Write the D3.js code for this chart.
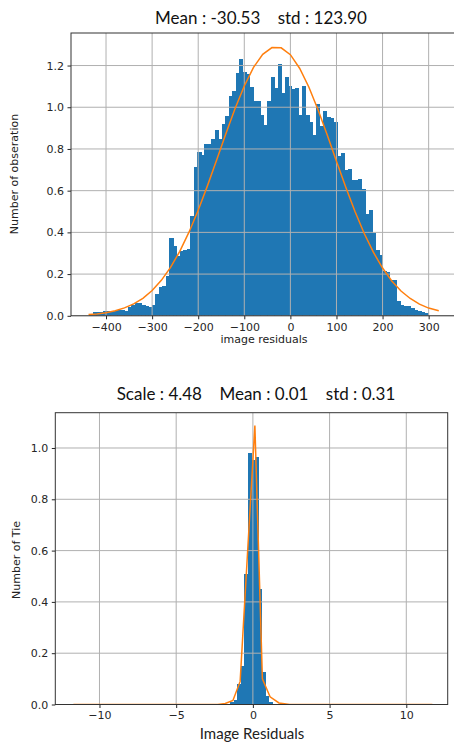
<!DOCTYPE html>
<html>
<head>
<meta charset="utf-8">
<script src="https://cdn.jsdelivr.net/npm/d3@7"></script>
<style>
  body { margin: 0; background: #fff; }
  svg { display: block; }
  .tick text { font-family: "DejaVu Sans", sans-serif; font-size: 11px; fill: #262626; }
  .tick line { stroke: #262626; }
</style>
</head>
<body>
<div id="chart"></div>
<script>
// ---- top histogram: image residuals (97 bins) ----
var topBinStart = -436.8;
var topBinWidth = 7.584;
var topCounts = [
  0.008, 0.02, 0.02, 0.018, 0.022, 0.024, 0.022, 0.022, 0.027, 0.027,
  0.024, 0.04, 0.05, 0.06, 0.06, 0.05, 0.046, 0.04, 0.053, 0.104,
  0.14, 0.144, 0.19, 0.373, 0.334, 0.288, 0.312, 0.317, 0.32, 0.477,
  0.712, 0.787, 0.771, 0.824, 0.824, 0.85, 0.891, 0.848, 0.92, 0.96,
  1.056, 1.08, 1.165, 1.232, 1.168, 1.16, 1.096, 1.032, 1.03, 0.961,
  0.913, 1.03, 1.147, 1.093, 1.208, 1.069, 1.144, 1.104, 1.088, 1.092,
  0.964, 1.10, 0.961, 0.929, 0.865, 1.017, 0.908, 0.98, 0.953, 0.948,
  0.929, 0.768, 0.782, 0.701, 0.703, 0.653, 0.65, 0.657, 0.61, 0.488,
  0.507, 0.398, 0.316, 0.292, 0.217, 0.212, 0.172, 0.172, 0.069, 0.053,
  0.048, 0.045, 0.037, 0.029, 0.021, 0.018, 0.013
];
// fitted curve
var topFitX = [-438, -420, -400, -380, -360, -340, -320, -300, -280, -260,
  -240, -220, -200, -180, -160, -140, -120, -100, -80, -60,
  -40, -20, 0, 20, 40, 60, 80, 100, 120, 140,
  160, 180, 200, 220, 240, 260, 280, 300, 322];
var topFitY = [0.006, 0.009, 0.015, 0.024, 0.038, 0.057, 0.084, 0.121, 0.170, 0.232,
  0.309, 0.401, 0.506, 0.623, 0.747, 0.873, 0.994, 1.102, 1.191, 1.254,
  1.286, 1.285, 1.252, 1.187, 1.097, 0.988, 0.867, 0.741, 0.617, 0.501,
  0.396, 0.305, 0.229, 0.167, 0.119, 0.083, 0.056, 0.037, 0.024];
var topXTicks = [-400, -300, -200, -100, 0, 100, 200, 300];
var topYTicks = [0, 0.2, 0.4, 0.6, 0.8, 1.0, 1.2];

// ---- bottom histogram: Image Residuals (non-empty bins only) ----
var botBinStart = -1.475;
var botBinWidth = 0.229;
var botCounts = [0.008, 0.017, 0.08, 0.15, 0.51, 0.979, 0.953, 0.966, 0.45, 0.125, 0.033, 0.01];
var botFitX = [-11.7, -2.3, -1.8, -1.3, -0.83, 0.13, 0.62, 1.12, 1.7, 2.4, 11.7];
var botFitY = [0, 0, 0.004, 0.016, 0.09, 1.088, 0.1, 0.03, 0.006, 0, 0];
var botXTicks = [-10, -5, 0, 5, 10];
var botYTicks = [0, 0.2, 0.4, 0.6, 0.8, 1.0];

var width = 454, height = 743;
var svg = d3.select("#chart").append("svg")
    .attr("width", width)
    .attr("height", height);

function fmtMinus(f) {
    return function (d) { return f(d).replace("-", "\u2212"); };
}

function drawPanel(opt) {
    var x = d3.scaleLinear().domain(opt.xDomain).range([opt.left, opt.right]);
    var y = d3.scaleLinear().domain(opt.yDomain).range([opt.bottom, opt.top]);
    var g = svg.append("g");

    g.append("clipPath").attr("id", opt.id + "-clip")
        .append("rect")
        .attr("x", opt.left).attr("y", opt.top)
        .attr("width", opt.right - opt.left).attr("height", opt.bottom - opt.top);

    var plot = g.append("g").attr("clip-path", "url(#" + opt.id + "-clip)");

    // bars (crisp so neighbouring bins don't show seams)
    plot.selectAll("rect.bar")
        .data(opt.counts)
        .enter().append("rect")
        .attr("class", "bar")
        .attr("x", function (d, i) { return x(opt.binStart + i * opt.binWidth); })
        .attr("y", function (d) { return y(d); })
        .attr("width", function (d, i) {
            return x(opt.binStart + (i + 1) * opt.binWidth) - x(opt.binStart + i * opt.binWidth) + 0.6;
        })
        .attr("height", function (d) { return y(0) - y(d); })
        .attr("fill", "#1f77b4")
        .attr("shape-rendering", "crispEdges");

    // grid drawn over the bars, like the original
    plot.selectAll("line.vgrid")
        .data(opt.xTicks)
        .enter().append("line")
        .attr("x1", function (d) { return x(d); })
        .attr("x2", function (d) { return x(d); })
        .attr("y1", opt.top).attr("y2", opt.bottom)
        .attr("stroke", "#b0b0b0").attr("stroke-width", 1);
    plot.selectAll("line.hgrid")
        .data(opt.yTicks)
        .enter().append("line")
        .attr("x1", opt.left).attr("x2", opt.right)
        .attr("y1", function (d) { return y(d); })
        .attr("y2", function (d) { return y(d); })
        .attr("stroke", "#b0b0b0").attr("stroke-width", 1);

    // fitted line
    var line = d3.line()
        .x(function (d) { return x(d[0]); })
        .y(function (d) { return y(d[1]); });
    plot.append("path")
        .datum(d3.zip(opt.fitX, opt.fitY))
        .attr("d", line)
        .attr("fill", "none")
        .attr("stroke", "#ff7f0e")
        .attr("stroke-width", 1.5);

    // axes
    var xAxis = g.append("g")
        .attr("transform", "translate(0," + opt.bottom + ")")
        .call(d3.axisBottom(x).tickValues(opt.xTicks).tickSize(3.5).tickPadding(3.5)
            .tickFormat(fmtMinus(d3.format("d"))));
    xAxis.select(".domain").remove();

    var yAxis = g.append("g")
        .attr("transform", "translate(" + opt.left + ",0)")
        .call(d3.axisLeft(y).tickValues(opt.yTicks).tickSize(3.5).tickPadding(3.5)
            .tickFormat(d3.format(".1f")));
    yAxis.select(".domain").remove();

    // frame
    g.append("rect")
        .attr("x", opt.left).attr("y", opt.top)
        .attr("width", opt.right - opt.left).attr("height", opt.bottom - opt.top)
        .attr("fill", "none").attr("stroke", "#333").attr("stroke-width", 1);

    // titles
    g.append("text")
        .attr("x", opt.titleX).attr("y", opt.titleY)
        .attr("text-anchor", "middle")
        .style("font-family", "Lato, sans-serif")
        .style("font-size", "17px")
        .style("white-space", "pre")
        .attr("fill", "#111")
        .text(opt.title);

    g.append("text")
        .attr("x", opt.xLabelX).attr("y", opt.xLabelY)
        .attr("text-anchor", "middle")
        .style("font-family", opt.xLabelFont)
        .style("font-size", opt.xLabelSize)
        .attr("fill", "#222")
        .text(opt.xLabel);

    g.append("text")
        .attr("transform", "translate(" + opt.yLabelX + "," + opt.yLabelY + ") rotate(-90)")
        .attr("text-anchor", "middle")
        .style("font-family", "DejaVu Sans, sans-serif")
        .style("font-size", "11px")
        .attr("fill", "#222")
        .text(opt.yLabel);
}

drawPanel({
    id: "top",
    left: 71, right: 456.3, top: 33, bottom: 315.8,
    xDomain: [-476, 360], yDomain: [0, 1.356],
    binStart: topBinStart, binWidth: topBinWidth, counts: topCounts,
    fitX: topFitX, fitY: topFitY,
    xTicks: topXTicks, yTicks: topYTicks,
    title: "Mean : -30.53    std : 123.90", titleX: 261, titleY: 24,
    xLabel: "image residuals", xLabelX: 264, xLabelY: 343,
    xLabelFont: "DejaVu Sans, sans-serif", xLabelSize: "11px",
    yLabel: "Number of obseration", yLabelX: 18, yLabelY: 174
});

drawPanel({
    id: "bot",
    left: 55.3, right: 447.7, top: 412.7, bottom: 704.5,
    xDomain: [-12.88, 12.7], yDomain: [0, 1.1376],
    binStart: botBinStart, binWidth: botBinWidth, counts: botCounts,
    fitX: botFitX, fitY: botFitY,
    xTicks: botXTicks, yTicks: botYTicks,
    title: "Scale : 4.48    Mean : 0.01    std : 0.31", titleX: 256, titleY: 400,
    xLabel: "Image Residuals", xLabelX: 252, xLabelY: 739,
    xLabelFont: "Lato, sans-serif", xLabelSize: "15px",
    yLabel: "Number of Tie", yLabelX: 20, yLabelY: 560
});
</script>
</body>
</html>
